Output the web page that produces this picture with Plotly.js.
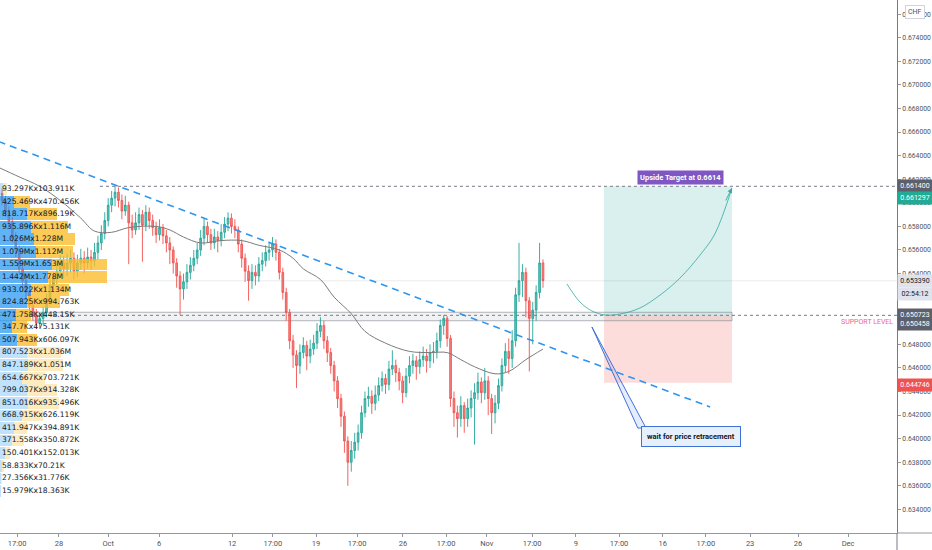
<!DOCTYPE html>
<html>
<head>
<meta charset="utf-8">
<script src="https://cdn.plot.ly/plotly-3.0.1.min.js"></script>
<style>
html, body { margin: 0; padding: 0; background: #fff; }
#chart { width: 932px; height: 550px; }
</style>
</head>
<body>
<div id="chart"></div>
<script>
/* USD/CHF-style 4h chart with volume profile and a long setup */

// candles (bar index = position in the list)
var open = [
  0.6608,0.6602,0.6592,0.6584,0.6570,0.6560,0.6544,0.6534,0.6524,0.6513,
  0.6504,0.6498,0.6502,0.6507,0.6519,0.6530,0.6536,0.6542,0.6549,0.6544,
  0.6549,0.6553,0.6542,0.6549,0.6553,0.6549,0.6554,0.6551,0.6558,0.6566,
  0.6574,0.6585,0.6598,0.6604,0.6609,0.6602,0.6593,0.6598,0.6583,0.6577,
  0.6583,0.6590,0.6581,0.6592,0.6585,0.6579,0.6573,0.6579,0.6572,0.6566,
  0.6560,0.6549,0.6538,0.6527,0.6533,0.6541,0.6547,0.6553,0.6560,0.6570,
  0.6580,0.6573,0.6566,0.6571,0.6568,0.6575,0.6582,0.6587,0.6580,0.6577,
  0.6565,0.6553,0.6542,0.6534,0.6541,0.6538,0.6548,0.6551,0.6558,0.6560,
  0.6565,0.6558,0.6541,0.6524,0.6507,0.6483,0.6471,0.6462,0.6473,0.6479,
  0.6470,0.6476,0.6481,0.6491,0.6496,0.6483,0.6473,0.6462,0.6449,0.6434,
  0.6419,0.6398,0.6380,0.6390,0.6397,0.6405,0.6422,0.6434,0.6436,0.6430,
  0.6437,0.6445,0.6451,0.6446,0.6459,0.6462,0.6456,0.6449,0.6439,0.6453,
  0.6462,0.6466,0.6461,0.6467,0.6470,0.6466,0.6473,0.6474,0.6483,0.6496,
  0.6502,0.6485,0.6434,0.6422,0.6417,0.6428,0.6417,0.6426,0.6434,0.6439,
  0.6448,0.6439,0.6449,0.6434,0.6422,0.6430,0.6445,0.6462,0.6474,0.6468,
  0.6483,0.6522,0.6534,0.6541,0.6517,0.6502,0.6509,0.6524,0.6549
];
var high = [
  0.6612,0.6606,0.6597,0.6588,0.6575,0.6564,0.6549,0.6540,0.6528,0.6518,
  0.6510,0.6507,0.6512,0.6523,0.6535,0.6541,0.6550,0.6556,0.6555,0.6557,
  0.6560,0.6558,0.6556,0.6561,0.6559,0.6562,0.6560,0.6566,0.6572,0.6581,
  0.6592,0.6604,0.6610,0.6615,0.6613,0.6607,0.6606,0.6601,0.6590,0.6592,
  0.6596,0.6594,0.6598,0.6596,0.6590,0.6584,0.6586,0.6582,0.6577,0.6571,
  0.6563,0.6553,0.6542,0.6540,0.6548,0.6554,0.6560,0.6566,0.6577,0.6587,
  0.6584,0.6578,0.6578,0.6576,0.6582,0.6588,0.6592,0.6591,0.6586,0.6580,
  0.6569,0.6557,0.6547,0.6548,0.6547,0.6554,0.6558,0.6564,0.6567,0.6571,
  0.6569,0.6561,0.6545,0.6528,0.6510,0.6488,0.6475,0.6480,0.6486,0.6483,
  0.6484,0.6488,0.6498,0.6503,0.6500,0.6487,0.6477,0.6466,0.6453,0.6438,
  0.6423,0.6402,0.6398,0.6405,0.6412,0.6428,0.6440,0.6444,0.6441,0.6445,
  0.6452,0.6457,0.6455,0.6466,0.6475,0.6467,0.6460,0.6453,0.6460,0.6470,
  0.6472,0.6470,0.6474,0.6478,0.6476,0.6480,0.6482,0.6490,0.6501,0.6505,
  0.6504,0.6488,0.6440,0.6428,0.6436,0.6431,0.6434,0.6441,0.6447,0.6456,
  0.6452,0.6460,0.6453,0.6438,0.6437,0.6451,0.6468,0.6481,0.6485,0.6492,
  0.6528,0.6566,0.6548,0.6545,0.6520,0.6516,0.6530,0.6566,0.6552
];
var low = [
  0.6598,0.6588,0.6579,0.6566,0.6554,0.6540,0.6529,0.6519,0.6508,0.6500,
  0.6493,0.6494,0.6497,0.6503,0.6514,0.6524,0.6531,0.6537,0.6536,0.6538,
  0.6541,0.6535,0.6537,0.6543,0.6540,0.6544,0.6543,0.6546,0.6552,0.6560,
  0.6569,0.6580,0.6592,0.6597,0.6596,0.6586,0.6589,0.6548,0.6570,0.6573,
  0.6577,0.6550,0.6576,0.6578,0.6572,0.6566,0.6568,0.6565,0.6558,0.6548,
  0.6540,0.6528,0.6505,0.6518,0.6527,0.6535,0.6542,0.6548,0.6555,0.6564,
  0.6566,0.6560,0.6561,0.6558,0.6563,0.6570,0.6576,0.6574,0.6570,0.6558,
  0.6545,0.6533,0.6517,0.6527,0.6530,0.6533,0.6542,0.6546,0.6551,0.6554,
  0.6551,0.6535,0.6518,0.6500,0.6476,0.6460,0.6443,0.6455,0.6468,0.6458,
  0.6464,0.6471,0.6476,0.6486,0.6476,0.6465,0.6455,0.6440,0.6426,0.6410,
  0.6388,0.6360,0.6372,0.6383,0.6390,0.6400,0.6418,0.6427,0.6421,0.6424,
  0.6432,0.6440,0.6438,0.6441,0.6454,0.6448,0.6441,0.6430,0.6435,0.6447,
  0.6455,0.6450,0.6455,0.6461,0.6456,0.6460,0.6464,0.6468,0.6477,0.6488,
  0.6478,0.6427,0.6410,0.6401,0.6410,0.6405,0.6410,0.6418,0.6395,0.6433,
  0.6430,0.6433,0.6420,0.6404,0.6413,0.6425,0.6440,0.6456,0.6455,0.6460,
  0.6478,0.6516,0.6520,0.6503,0.6457,0.6480,0.6500,0.6519,0.6528
];
var close = [
  0.6602,0.6592,0.6584,0.6570,0.6560,0.6544,0.6534,0.6524,0.6513,0.6504,
  0.6498,0.6502,0.6507,0.6519,0.6530,0.6536,0.6542,0.6549,0.6544,0.6549,
  0.6553,0.6542,0.6549,0.6553,0.6549,0.6554,0.6551,0.6558,0.6566,0.6574,
  0.6585,0.6598,0.6604,0.6609,0.6602,0.6593,0.6598,0.6583,0.6577,0.6583,
  0.6590,0.6581,0.6592,0.6585,0.6579,0.6573,0.6579,0.6572,0.6566,0.6560,
  0.6549,0.6538,0.6527,0.6533,0.6541,0.6547,0.6553,0.6560,0.6570,0.6580,
  0.6573,0.6566,0.6571,0.6568,0.6575,0.6582,0.6587,0.6580,0.6577,0.6565,
  0.6553,0.6542,0.6534,0.6541,0.6538,0.6548,0.6551,0.6558,0.6560,0.6565,
  0.6558,0.6541,0.6524,0.6507,0.6483,0.6471,0.6462,0.6473,0.6479,0.6470,
  0.6476,0.6481,0.6491,0.6496,0.6483,0.6473,0.6462,0.6449,0.6434,0.6419,
  0.6398,0.6380,0.6390,0.6397,0.6405,0.6422,0.6434,0.6436,0.6430,0.6437,
  0.6445,0.6451,0.6446,0.6459,0.6462,0.6456,0.6449,0.6439,0.6453,0.6462,
  0.6466,0.6461,0.6467,0.6470,0.6466,0.6473,0.6474,0.6483,0.6496,0.6502,
  0.6485,0.6434,0.6422,0.6417,0.6428,0.6417,0.6426,0.6434,0.6439,0.6448,
  0.6439,0.6449,0.6434,0.6422,0.6430,0.6445,0.6462,0.6474,0.6468,0.6483,
  0.6522,0.6534,0.6541,0.6517,0.6502,0.6509,0.6524,0.6549,0.6534
];

// moving average
var maBars   = [-1, 5, 11, 17, 23, 27, 32, 37, 45, 49, 53, 58, 64, 70, 75, 81,
                85, 88, 93, 97, 102, 106, 112, 119, 125, 130, 134, 138, 144, 148, 153, 158];
var maPrices = [0.6630, 0.6622, 0.6614, 0.6602, 0.6587, 0.6576, 0.6575, 0.6579,
                0.6580, 0.6577, 0.6571, 0.6566, 0.6568, 0.6568, 0.6564, 0.6560,
                0.6553, 0.6544, 0.6535, 0.6520, 0.6506, 0.6491, 0.6481, 0.6474,
                0.6473, 0.6473, 0.6467, 0.6461, 0.6455, 0.6457, 0.6467, 0.6476];

// time axis labels
var tickBars = [4.4, 16.6, 31.0, 45.9, 67.2, 79.1, 91.7, 103.7, 117.1, 129.7,
                141.6, 154.8, 167.6, 180.2, 193.0, 205.6, 218.5, 232.5, 247.1];
var tickText = ['17:00', '28', 'Oct', '6', '12', '17:00', '19', '17:00', '26', '17:00',
                'Nov', '17:00', '9', '17:00', '16', '17:00', '23', '26', 'Dec'];

// price axis labels (the ones hidden behind price tags are left out)
var priceTicks = [0.634, 0.636, 0.638, 0.640, 0.642, 0.644, 0.646, 0.648, 0.654, 0.656,
                  0.658, 0.660, 0.662, 0.664, 0.666, 0.668, 0.670, 0.672, 0.674, 0.676];

// volume profile rows (thousands): up x down
var rowPrices = [0.66117, 0.66010, 0.65904, 0.65798, 0.65691, 0.65584, 0.65477, 0.65370,
                 0.65264, 0.65157, 0.65050, 0.64944, 0.64837, 0.64731, 0.64624, 0.64517,
                 0.64410, 0.64303, 0.64197, 0.64090, 0.63984, 0.63877, 0.63770, 0.63663, 0.63556];
var upVol   = [93.297, 425.469, 818.717, 935.896, 1026, 1079, 1559, 1442, 933.022, 824.825,
               471.758, 347.7, 507.943, 807.523, 847.189, 654.667, 799.037, 851.016, 668.915,
               411.947, 371.558, 150.401, 58.833, 27.356, 15.979];
var downVol = [103.911, 470.456, 896.19, 1116, 1228, 1112, 1653, 1778, 1134, 994.763,
               448.15, 475.131, 606.097, 1036, 1051, 703.721, 914.328, 935.496, 626.119,
               394.891, 350.872, 152.013, 70.21, 31.776, 18.363];
var valueArea = [0, 1, 1, 1, 1, 1, 1, 1, 1, 1, 1, 1, 1, 0, 0, 0, 0, 0, 0, 0, 0, 0, 0, 0, 0];

// drawings
var lastPrice = 0.65339;
var targetPrice = 0.6614;
var entryPrice = 0.65046;
var stopPrice = 0.644746;
var supportTop = 0.65072, supportBottom = 0.65000;
var toolBars = [175.8, 213.2];
var trendBars = [-1, 206.8], trendPrices = [0.66520, 0.64269];
var curveBars   = [165.0, 168.8, 172.3, 176.1, 180.5, 186.3, 192.2, 198.0, 203.9, 208.2, 213.2];
var curvePrices = [0.65312, 0.65159, 0.65083, 0.65049, 0.65057, 0.65108, 0.65218, 0.65362,
                   0.65558, 0.65736, 0.66126];
var noteBars = [172.3, 185.7, 188.1], notePrices = [0.64947, 0.64090, 0.64090];

var xRange = [-0.6, 261.4];
var font = 'Roboto, "Liberation Sans", sans-serif';

function fmtVol(k) {
    return k >= 1000 ? +(k / 1000).toFixed(3) + 'M' : +k.toFixed(3) + 'K';
}

var bars = close.map(function (_, i) { return i; });

var candles = {
    type: 'candlestick',
    x: bars, open: open, high: high, low: low, close: close,
    increasing: {line: {color: 'rgba(38,166,154,0.9)', width: 1}, fillcolor: 'rgba(38,166,154,0.7)'},
    decreasing: {line: {color: 'rgba(239,83,80,0.9)', width: 1}, fillcolor: 'rgba(239,83,80,0.7)'},
    whiskerwidth: 0,
    hoverinfo: 'skip'
};

var ma = {
    x: maBars, y: maPrices, mode: 'lines', type: 'scatter',
    line: {color: '#7b7b7b', width: 1, shape: 'spline'}, hoverinfo: 'skip'
};

var trend = {
    x: trendBars, y: trendPrices, mode: 'lines', type: 'scatter',
    line: {color: '#2e96f0', width: 1.6, dash: '7px,5px'}, hoverinfo: 'skip'
};

var priceLine = {
    x: xRange, y: [lastPrice, lastPrice], mode: 'lines', type: 'scatter',
    line: {color: 'rgba(120,123,134,0.15)', width: 1}, hoverinfo: 'skip'
};

var targetLine = {
    x: [28.6, xRange[1]], y: [targetPrice, targetPrice], mode: 'lines', type: 'scatter',
    line: {color: '#787b86', width: 1, dash: 'dot'}, hoverinfo: 'skip'
};

var entryLine = {
    x: xRange, y: [entryPrice, entryPrice], mode: 'lines', type: 'scatter',
    line: {color: '#787b86', width: 1, dash: 'dot'}, hoverinfo: 'skip'
};

var curve = {
    x: curveBars, y: curvePrices, mode: 'lines', type: 'scatter',
    line: {color: 'rgba(38,166,154,0.75)', width: 1, shape: 'spline'}, hoverinfo: 'skip'
};

var note = {
    x: noteBars.concat([noteBars[0]]), y: notePrices.concat([notePrices[0]]),
    mode: 'lines', type: 'scatter', fill: 'toself',
    fillcolor: 'rgba(41,98,255,0.12)', line: {color: '#3f72d6', width: 1}, hoverinfo: 'skip'
};

var colUp = valueArea.map(function (v) { return v ? 'rgba(33,150,243,0.72)' : 'rgba(33,150,243,0.28)'; });
var colDown = valueArea.map(function (v) { return v ? 'rgba(251,188,40,0.78)' : 'rgba(251,188,40,0.3)'; });

var vpUp = {
    type: 'bar', orientation: 'h', x: upVol, y: rowPrices, width: 0.00100,
    marker: {color: colUp, line: {width: 0}}, xaxis: 'x2', yaxis: 'y', hoverinfo: 'skip'
};
var vpDown = {
    type: 'bar', orientation: 'h', x: downVol, y: rowPrices, width: 0.00100,
    marker: {color: colDown, line: {width: 0}}, xaxis: 'x2', yaxis: 'y', hoverinfo: 'skip'
};
var vpText = {
    type: 'scatter', mode: 'text', x: rowPrices.map(function () { return 60; }), y: rowPrices,
    text: upVol.map(function (u, i) { return fmtVol(u) + 'x' + fmtVol(downVol[i]); }),
    textposition: 'middle right', textfont: {family: '"DejaVu Sans", sans-serif', size: 7.6, color: '#131722'},
    xaxis: 'x2', yaxis: 'y', cliponaxis: false, hoverinfo: 'skip'
};

function tag(price, text, bg, fg, yshift) {
    return {
        xref: 'paper', x: 1, xanchor: 'left', yref: 'y', y: price, yshift: yshift || 0,
        text: text, showarrow: false, bgcolor: bg, borderpad: 2, width: 30,
        font: {family: font, size: 7, color: fg}
    };
}

var layout = {
    width: 932, height: 550,
    margin: {l: 0, r: 35, t: 0, b: 17},
    paper_bgcolor: '#ffffff', plot_bgcolor: '#ffffff',
    showlegend: false, barmode: 'stack', bargap: 0,
    font: {family: font, size: 8, color: '#50535e'},
    xaxis: {
        range: xRange, tickvals: tickBars, ticktext: tickText,
        ticks: 'outside', ticklen: 3, tickcolor: '#9598a1',
        showgrid: false, zeroline: false, showline: true, linecolor: '#9598a1',
        rangeslider: {visible: false}, tickfont: {size: 7.5, color: '#50535e'}, fixedrange: true
    },
    xaxis2: {overlaying: 'x', anchor: 'y', range: [0, 27000], visible: false, fixedrange: true},
    yaxis: {
        side: 'right', range: [0.63200, 0.67720], tickvals: priceTicks, tickformat: '.6f',
        ticks: 'outside', ticklen: 3, tickcolor: '#9598a1', showline: true, linecolor: '#787b86',
        showgrid: false, zeroline: false, tickfont: {size: 6.8, color: '#50535e'}, fixedrange: true
    },
    shapes: [
        {type: 'rect', xref: 'x', yref: 'y', x0: toolBars[0], x1: toolBars[1], y0: entryPrice, y1: targetPrice,
         fillcolor: 'rgba(38,166,154,0.17)', line: {width: 0}, layer: 'below'},
        {type: 'rect', xref: 'x', yref: 'y', x0: toolBars[0], x1: toolBars[1], y0: stopPrice, y1: entryPrice,
         fillcolor: 'rgba(239,83,80,0.2)', line: {width: 0}, layer: 'below'},
        {type: 'rect', xref: 'x', yref: 'y', x0: xRange[0] - 1, x1: toolBars[1], y0: supportBottom, y1: supportTop,
         fillcolor: 'rgba(120,123,134,0.1)', line: {color: 'rgba(120,123,134,0.55)', width: 1}, layer: 'below'},
        {type: 'line', xref: 'paper', yref: 'paper', x0: 1, x1: 1.05, y0: 0, y1: 0,
         line: {color: '#9598a1', width: 1}},
        {type: 'line', xref: 'paper', yref: 'paper', x0: 1, x1: 1, y0: 0, y1: -0.04,
         line: {color: '#787b86', width: 1}}
    ],
    annotations: [
        {xref: 'x', yref: 'y', x: 198.3, y: 0.66219, text: '<b>Upside Target at 0.6614</b>',
         showarrow: false, bgcolor: '#7e57c2', borderpad: 2, font: {family: font, size: 7.5, color: '#ffffff'}},
        {xref: 'x', yref: 'y', x: curveBars[10], y: curvePrices[10], ax: -7, ay: 14, text: '',
         showarrow: true, arrowhead: 2, arrowsize: 1, arrowwidth: 1, arrowcolor: 'rgba(38,166,154,0.85)'},
        {xref: 'x', yref: 'y', x: 201.1, y: 0.64018, text: '<b>wait for price retracement</b>',
         showarrow: false, bgcolor: '#e6effc', bordercolor: '#3f72d6', borderwidth: 1, borderpad: 5,
         font: {family: font, size: 7.5, color: '#131722'}},
        {xref: 'paper', x: 0.998, xanchor: 'right', yref: 'y', y: 0.64989, text: 'SUPPORT LEVEL',
         showarrow: false, font: {family: font, size: 7, color: '#f06292'}},
        {xref: 'paper', x: 1, xanchor: 'left', xshift: 8, yref: 'paper', y: 1, yanchor: 'top', yshift: -5,
         text: 'CHF', showarrow: false, bgcolor: '#ffffff', bordercolor: '#d1d4dc', borderwidth: 1,
         borderpad: 2, font: {family: font, size: 7, color: '#50535e'}},
        tag(targetPrice, '0.661400', '#5d606b', '#ffffff', 0),
        tag(0.661297, '0.661297', '#22ab94', '#ffffff', -10),
        tag(lastPrice, '0.653390', '#e0e3eb', '#131722', 0),
        tag(lastPrice, '02:54:12', '#e0e3eb', '#131722', -13),
        tag(supportTop, '0.650723', '#5d606b', '#ffffff', -3),
        tag(entryPrice, '0.650458', '#5d606b', '#ffffff', -9),
        tag(stopPrice, '0.644746', '#ef5350', '#ffffff', -2)
    ]
};

Plotly.newPlot('chart',
    [priceLine, candles, ma, trend, targetLine, entryLine, curve, note, vpUp, vpDown, vpText],
    layout, {displayModeBar: false, staticPlot: true});
</script>
</body>
</html>
